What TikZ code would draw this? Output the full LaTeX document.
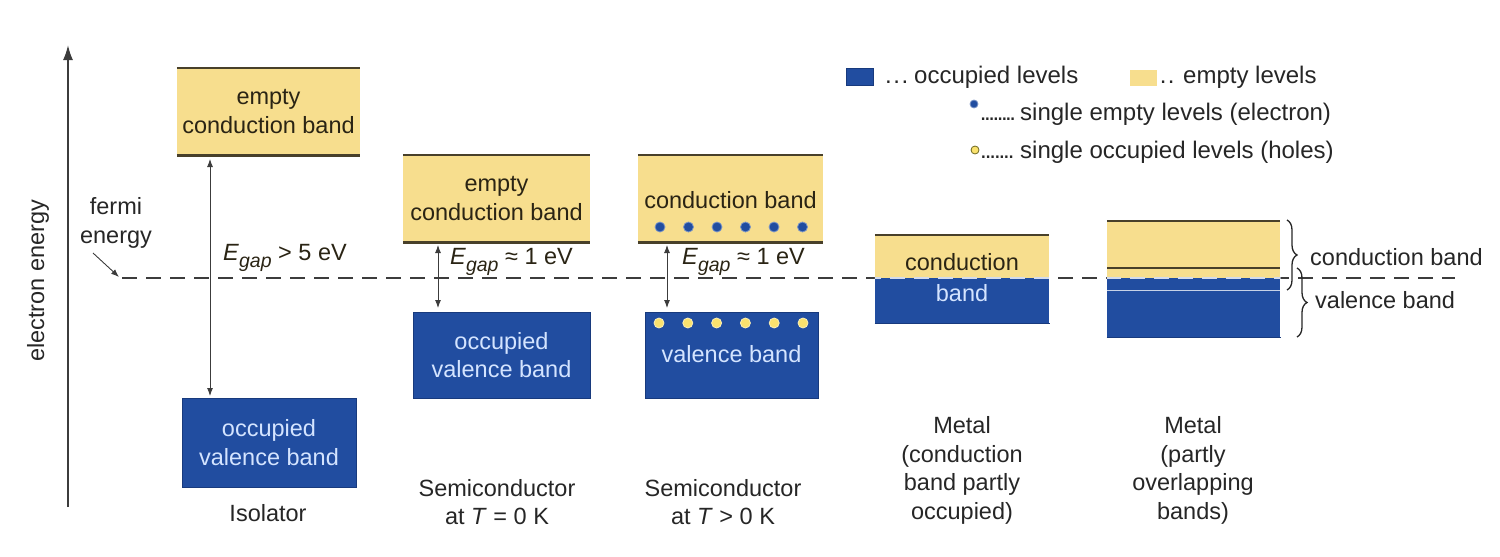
\documentclass[tikz,border=0pt]{standalone}
\usepackage{fontspec}
\setmainfont{Liberation Sans}
\usetikzlibrary{decorations.pathreplacing,arrows.meta}
\definecolor{occ}{RGB}{33,77,160}
\definecolor{occedge}{RGB}{24,58,125}
\definecolor{emp}{RGB}{247,222,142}
\definecolor{bandline}{RGB}{72,64,42}
\definecolor{lighttext}{RGB}{212,228,255}
\definecolor{darktext}{RGB}{42,36,20}
\definecolor{axisgray}{RGB}{60,60,60}
\definecolor{holecol}{RGB}{250,226,110}
\newcommand\legdots[2]{\hbox to #1{\leaders\hbox to #2{\hss.\hss}\hfill}}
\newcommand\Eg{\textit{E}\raisebox{-0.3em}{\fontsize{19.5}{19.5}\selectfont\itshape gap}}
\begin{document}
\begin{tikzpicture}[x=1pt,y=-1pt,
  every node/.style={font=\fontsize{23.5}{28.5}\selectfont, inner sep=0pt, align=center, text=darktext},
  ybox/.style={fill=emp, draw=none, text=darktext},
  bbox/.style={fill=occ, draw=occedge, line width=1pt, text=lighttext},
  bline/.style={draw=bandline, line width=2.6pt},
  gaparrow/.style={{Latex[length=8pt,width=6pt]}-{Latex[length=8pt,width=6pt]}, line width=0.9pt, draw=axisgray},
  fermidash/.style={dash pattern=on 15pt off 9pt, line width=1.6pt},
  edot/.style={circle, fill=occ, draw=occ!60!white, line width=0.8pt, minimum size=10pt},
  hdot/.style={circle, fill=holecol, draw=holecol!50!white, line width=0.8pt, minimum size=10pt},
  bracestyle/.style={decorate, decoration={brace, amplitude=10pt}, line width=1.3pt, draw=black!85},
  lbl/.style={text=black!85}]
\useasboundingbox (0,0) rectangle (1500,557);

% energy axis
\coordinate (ax0) at (68,507);
\coordinate (ax1) at (68,45);
\draw[line width=1.8pt, draw=axisgray, -{Latex[length=15pt,width=10pt]}] (ax0) -- (ax1);
\node[rotate=90, lbl] (elab) at (38,281) {electron energy};

% fermi level
\node[lbl] (fermi) at (116,223) {fermi\\energy};
\coordinate (fa0) at (93,253);
\coordinate (fa1) at (119,277);
\draw[line width=0.9pt, draw=axisgray, -{Latex[length=8pt,width=6pt]}] (fa0) -- (fa1);
\coordinate (fl0) at (122,278);
\coordinate (fl1) at (1455,278);
\draw[fermidash, draw=axisgray] (fl0) -- (fl1);

% Isolator
\node[ybox, minimum width=183pt, minimum height=87pt] (icb) at (268.5,111.5) {empty\\conduction band};
\draw[bline] (icb.north west) -- (icb.north east);
\draw[bline] (icb.south west) -- (icb.south east);
\node[bbox, minimum width=174pt, minimum height=89pt] (ivb) at (269,442.5) {occupied\\valence band};
\coordinate (ig0) at (210,159);
\coordinate (ig1) at (210,396);
\draw[gaparrow] (ig0) -- (ig1);
\node (igl) at (285,258) {\Eg\ {>} 5 eV};
\node[lbl] (iso) at (268,513) {Isolator};

% Semiconductor T = 0
\node[ybox, minimum width=187pt, minimum height=87pt] (scb0) at (496.5,198.5) {empty\\conduction band};
\draw[bline] (scb0.north west) -- (scb0.north east);
\draw[bline] (scb0.south west) -- (scb0.south east);
\node[bbox, minimum width=177pt, minimum height=86pt] (svb0) at (501.5,355) {occupied\\valence band};
\coordinate (sg00) at (438,245);
\coordinate (sg01) at (438,308);
\draw[gaparrow] (sg00) -- (sg01);
\node (sgl0) at (511.5,262) {\Eg\ ≈ 1 eV};
\node[lbl] (semi0) at (497,502) {Semiconductor\\at \textit{T} = 0 K};

% Semiconductor T > 0
\node[ybox, minimum width=185pt, minimum height=87pt] (scb1) at (730.5,198.5) {};
\draw[bline] (scb1.north west) -- (scb1.north east);
\draw[bline] (scb1.south west) -- (scb1.south east);
\node (scb1t) at (730.5,200) {conduction band};
\foreach \i in {0,...,5} {\node[edot] (el\i) at (660+28.5*\i,227) {};}
\node[bbox, minimum width=173pt, minimum height=86pt] (svb1) at (731.5,355) {};
\foreach \i in {0,...,5} {\node[hdot] (ho\i) at (659+28.8*\i,323) {};}
\node[text=lighttext] (svb1t) at (731.5,354) {valence band};
\coordinate (sg10) at (667,245);
\coordinate (sg11) at (667,308);
\draw[gaparrow] (sg10) -- (sg11);
\node (sgl1) at (743.5,262) {\Eg\ ≈ 1 eV};
\node[lbl] (semi1) at (723,502) {Semiconductor\\at \textit{T} {>} 0 K};

% Metal 1
\node[ybox, minimum width=174pt, minimum height=43pt] (m1y) at (962,256.5) {};
\node[bbox, draw=none, minimum width=174pt, minimum height=45pt] (m1b) at (962,300.5) {};
\draw[bline] (m1y.north west) -- (m1y.north east);
\draw[occedge, line width=1.5pt] (m1b.south west) -- (m1b.south east);
\node (m1t1) at (962,262) {conduction};
\node[text=lighttext] (m1t2) at (962,293) {band};
\node[lbl] (metal1) at (962,470.5) {Metal\\(conduction\\band partly\\occupied)};

% Metal 2
\node[ybox, minimum width=173pt, minimum height=57pt] (m2y) at (1193.5,249.5) {};
\node[bbox, draw=none, minimum width=173pt, minimum height=59pt] (m2b) at (1193.5,307.5) {};
\draw[bline] (m2y.north west) -- (m2y.north east);
\coordinate (vt0) at (1107,268);
\coordinate (vt1) at (1280,268);
\draw[bandline, line width=2.4pt] (vt0) -- (vt1);
\coordinate (ct0) at (1107,290);
\coordinate (ct1) at (1280,290);
\draw[white!75!occ, line width=1pt] (ct0) -- (ct1);
\draw[occedge, line width=1.5pt] (m2b.south west) -- (m2b.south east);
\node[lbl] (metal2) at (1193,470.5) {Metal\\(partly\\overlapping\\bands)};

% light dashes of the fermi line across metal boxes
\begin{scope}
\clip (m1y.north west) rectangle (m1b.south east) (m2y.north west) rectangle (m2b.south east);
\draw[fermidash, draw=white!80!occ] (fl0) -- (fl1);
\end{scope}

% braces
\coordinate (cb0) at (1287,220);
\coordinate (cb1) at (1287,290);
\draw[bracestyle] (cb0) -- (cb1);
\coordinate (vb0) at (1297,268);
\coordinate (vb1) at (1297,337);
\draw[bracestyle] (vb0) -- (vb1);
\node[lbl, anchor=west] (cbl) at (1310,257) {conduction band};
\node[lbl, anchor=west] (vbl) at (1315,300) {valence band};

% legend
\node[bbox, minimum width=27pt, minimum height=17pt] (lgo) at (859.5,76.5) {};
\node[lbl, anchor=west, font=\fontsize{24}{28}\selectfont] (lgot) at (884,77) {\legdots{26pt}{8.3pt}\,occupied levels};
\node[ybox, minimum width=27pt, minimum height=16pt] (lge) at (1143.5,77.5) {};
\node[lbl, anchor=west, font=\fontsize{24}{28}\selectfont] (lget) at (1159,77) {\legdots{20pt}{8pt}\,empty levels};
\node[edot, minimum size=8pt] (lgel) at (974,104) {};
\node[lbl, anchor=west, font=\fontsize{24}{28}\selectfont] (lgelt) at (981,114) {\legdots{35pt}{4.2pt}\,single empty levels (electron)};
\node[hdot, draw=olive!70!black, minimum size=8pt] (lgho) at (975,150) {};
\node[lbl, anchor=west, font=\fontsize{24}{28}\selectfont] (lghot) at (981,152) {\legdots{35pt}{4.6pt}\,single occupied levels (holes)};
\end{tikzpicture}
\end{document}
